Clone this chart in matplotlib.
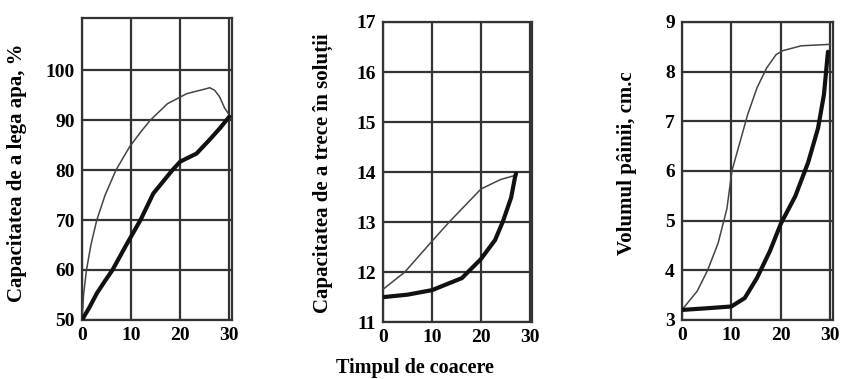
import matplotlib.pyplot as plt

plt.rcParams['font.family'] = ['Liberation Serif', 'DejaVu Serif']
plt.rcParams['font.weight'] = 'bold'

# panel 1: water binding capacity
t1_thin = [0, 0.3, 0.9, 1.8, 3, 4.7, 6.9, 9.7, 12, 13.9, 17.4, 21.3, 25.3, 26, 27, 28, 29, 30]
v1_thin = [50, 55, 60, 65, 70, 75, 80, 84.7, 87.7, 90, 93.3, 95.3, 96.3, 96.5, 96, 94.7, 92.5, 91]
t1_thick = [0, 1.5, 3, 4.6, 6.2, 9, 11.9, 14.5, 18.4, 20, 23.3, 25.9, 28, 30]
v1_thick = [50, 52.5, 55.3, 57.7, 60, 65, 70, 75.3, 80, 81.7, 83.3, 86, 88.3, 90.7]

# panel 2: solubility
t2_thin = [0, 4.4, 10, 13.5, 20, 24, 26.9, 27.2]
v2_thin = [11.66, 12.0, 12.62, 13.0, 13.66, 13.85, 13.93, 13.97]
t2_thick = [0, 5, 10, 16.1, 20, 22.9, 24.5, 26.2, 27.0, 27.2]
v2_thick = [11.5, 11.55, 11.64, 11.88, 12.26, 12.64, 13.01, 13.49, 13.9, 13.97]

# panel 3: bread volume
t3_thin = [0, 3.1, 5.2, 7.3, 9.1, 10.1, 11.7, 13.3, 15.2, 17.1, 19.0, 20.3, 24.1, 30]
v3_thin = [3.2, 3.58, 4.0, 4.54, 5.24, 6.0, 6.57, 7.14, 7.68, 8.07, 8.34, 8.42, 8.52, 8.55]
t3_thick = [0, 5.9, 10, 12.7, 15.2, 17.8, 20, 22.9, 25.5, 27.5, 28.7, 29.2, 29.5]
v3_thick = [3.2, 3.24, 3.27, 3.44, 3.85, 4.39, 4.94, 5.49, 6.17, 6.86, 7.54, 8.08, 8.4]

xticks = [0, 10, 20, 30]

panels = [
    dict(pos=[0.097, 0.156, 0.177, 0.797], tx=t1_thin, vx=v1_thin, tk=t1_thick, vk=v1_thick,
         ylim=(50, 110.5), yticks=[50, 60, 70, 80, 90, 100],
         ylabel='Capacitatea de a lega apa, %', lx=-0.37, ly=0.487),
    dict(pos=[0.453, 0.150, 0.176, 0.792], tx=t2_thin, vx=v2_thin, tk=t2_thick, vk=v2_thick,
         ylim=(11, 17), yticks=[11, 12, 13, 14, 15, 16, 17],
         ylabel='Capacitatea de a trece în soluții', lx=-0.34, ly=0.495),
    dict(pos=[0.806, 0.156, 0.1785, 0.786], tx=t3_thin, vx=v3_thin, tk=t3_thick, vk=v3_thick,
         ylim=(3, 9), yticks=[3, 4, 5, 6, 7, 8, 9],
         ylabel='Volumul pâinii, cm.c', lx=-0.30, ly=0.525),
]

fig = plt.figure(figsize=(8.46, 3.79), dpi=100)
axes = []
for p in panels:
    ax = fig.add_axes(p['pos'])
    ax.plot(p['tx'], p['vx'], color='#444444', lw=1.1, zorder=3)
    ax.plot(p['tk'], p['vk'], color='#111111', lw=3.0, zorder=3,
            solid_capstyle='round', solid_joinstyle='round')
    ax.set_xlim(0, 30.5)
    ax.set_ylim(*p['ylim'])
    ax.set_xticks(xticks)
    ax.set_yticks(p['yticks'])
    ax.grid(True, color='#333333', lw=1.6)
    for s in ax.spines.values():
        s.set_color('#333333')
        s.set_linewidth(1.6)
    ax.tick_params(length=0, labelsize=14, pad=5)
    ax.set_ylabel(p['ylabel'], fontsize=15, fontweight='bold')
    ax.yaxis.set_label_coords(p['lx'], p['ly'])
    axes.append(ax)

axes[1].set_xlabel('Timpul de coacere', fontsize=14.5, fontweight='bold')
axes[1].xaxis.set_label_coords(0.21, -0.12)

fig.savefig('out.png', dpi=100)
